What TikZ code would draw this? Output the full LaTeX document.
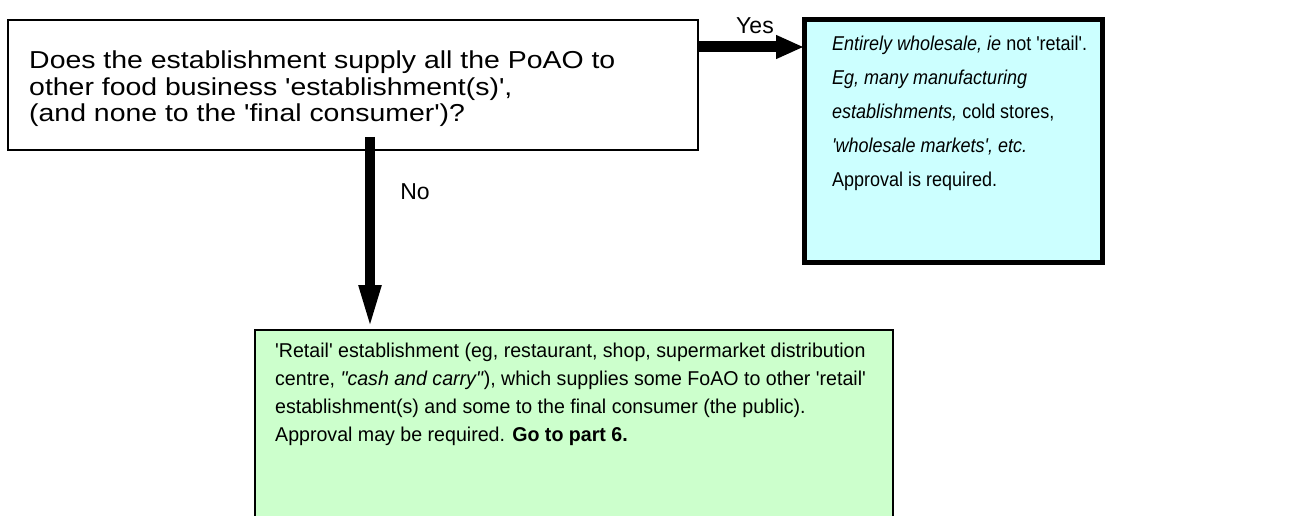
\documentclass[tikz,border=0pt]{standalone}
\usepackage{fontspec}
\newfontfamily\arialfont{Liberation Sans}
\usetikzlibrary{arrows.meta}

\definecolor{wholesalecyan}{HTML}{CCFFFF}
\definecolor{retailgreen}{HTML}{CCFFCC}

\tikzset{
  qbox/.style={draw, line width=1.2pt, fill=white},
  ansbox/.style={draw, line width=5pt, fill=wholesalecyan},
  retbox/.style={draw, line width=1.2pt, fill=retailgreen},
  boxtext/.style={align=left, anchor=north west, inner sep=0pt},
  flowlabel/.style={font=\arialfont\fontsize{23}{26}\selectfont},
  flow/.style={line width=11pt, -{Triangle[width=22pt,length=28pt]}},
}

\begin{document}
\begin{tikzpicture}[x=1pt, y=-1pt]
\useasboundingbox (0,0) rectangle (1301,516);

% question box
\draw[qbox] (8,20) rectangle (698,150);
\node[boxtext, xscale=1.16, transform shape, font=\arialfont\fontsize{24.5}{26.5}\selectfont] (question) at (29,51) {Does the establishment supply all the PoAO to\\
other food business 'establishment(s)',\\
(and none to the 'final consumer')?};

% wholesale answer
\draw[ansbox] (804,20) rectangle (1102,262);
\node[boxtext, xscale=0.9, transform shape, font=\arialfont\fontsize{20}{34}\selectfont] (wholesale) at (832,36) {\textit{Entirely wholesale, ie} not 'retail'.\\
\textit{Eg, many manufacturing}\\
\textit{establishments,} cold stores,\\
\textit{'wholesale markets', etc.}\\
Approval is required.};

% retail answer (runs off the page)
\draw[retbox] (255,530) -- (255,330) -- (893,330) -- (893,530);
\node[boxtext, xscale=0.98, transform shape, font=\arialfont\fontsize{20}{28}\selectfont] (retail) at (275,343) {'Retail' establishment (eg, restaurant, shop, supermarket distribution\\
centre, \textit{"cash and carry"}), which supplies some FoAO to other 'retail'\\
establishment(s) and some to the final consumer (the public).\\
Approval may be required. \textbf{Go to part 6.}};

% yes / no
\coordinate (yesfrom) at (698,47);
\coordinate (yesto) at (804,47);
\coordinate (nofrom) at (370,137);
\coordinate (noto) at (370,330);
\draw[flow] (yesfrom) -- (yesto);
\draw[line width=10pt, -{Triangle[width=20pt,length=45pt]}] (nofrom) -- (noto);
\node[flowlabel] (yes) at (755,26) {Yes};
\node[flowlabel] (no) at (415,192) {No};
\end{tikzpicture}
\end{document}
